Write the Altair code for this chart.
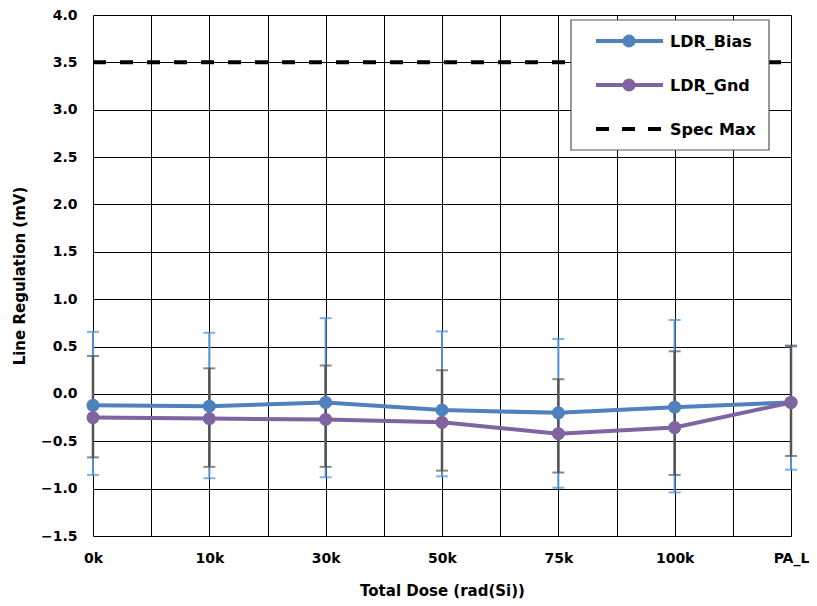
import altair as alt
import pandas as pd

categories = ["0k", "10k", "30k", "50k", "75k", "100k", "PA_L"]
bias_mean = [-0.12, -0.13, -0.09, -0.17, -0.20, -0.14, -0.09]
bias_hi = [0.655, 0.645, 0.80, 0.66, 0.58, 0.78, 0.50]
bias_lo = [-0.855, -0.89, -0.88, -0.87, -0.99, -1.04, -0.80]
gnd_mean = [-0.25, -0.26, -0.27, -0.30, -0.42, -0.355, -0.09]
gnd_hi = [0.40, 0.27, 0.30, 0.25, 0.155, 0.45, 0.51]
gnd_lo = [-0.67, -0.77, -0.77, -0.81, -0.83, -0.855, -0.655]
spec_max = 3.5
y_ticks = [4.0, 3.5, 3.0, 2.5, 2.0, 1.5, 1.0, 0.5, 0.0, -0.5, -1.0, -1.5]

BLUE = "#4F81BD"
BLUE_ERR = "#4F8FD6"
PURPLE = "#8064A2"
GRAY = "#555555"
FONT = "DejaVu Sans"

W, H = 698, 521

idx = list(range(len(categories)))
bias = pd.DataFrame({"i": idx, "cat": categories, "m": bias_mean, "hi": bias_hi, "lo": bias_lo})
gnd = pd.DataFrame({"i": idx, "cat": categories, "m": gnd_mean, "hi": gnd_hi, "lo": gnd_lo})
spec = pd.DataFrame({"i": [0, len(categories) - 1], "v": [spec_max, spec_max]})

label_arr = "[" + ",".join("'" + c + "'" for c in categories) + "]"
xscale = alt.Scale(domain=[0, len(categories) - 1], nice=False, zero=False)
yscale = alt.Scale(domain=[-1.5, 4.0], nice=False, zero=False)

x_axis = alt.Axis(
    title="Total Dose (rad(Si))",
    values=[k / 2 for k in range(2 * len(categories) - 1)],
    labelExpr=f"datum.value % 1 == 0 ? {label_arr}[datum.value] : ''",
    labelFlush=False, labelOverlap=False,
    grid=True, gridColor="#000000", gridOpacity=1, gridWidth=1,
    ticks=False, domain=False,
    labelFont=FONT, labelFontSize=14, labelFontWeight="bold", labelColor="#000000",
    labelPadding=15,
    titleFont=FONT, titleFontSize=15, titleFontWeight="bold", titleColor="#000000",
    titlePadding=18,
)
y_axis = alt.Axis(
    title="Line Regulation (mV)",
    values=y_ticks, format=".1f",
    labelFlush=False, labelOverlap=False,
    grid=True, gridColor="#000000", gridOpacity=1, gridWidth=1,
    ticks=False, domain=False,
    labelFont=FONT, labelFontSize=14, labelFontWeight="bold", labelColor="#000000",
    labelPadding=16,
    titleFont=FONT, titleFontSize=15, titleFontWeight="bold", titleColor="#000000",
    titlePadding=13,
)

X = alt.X("i:Q", scale=xscale, axis=x_axis)
Y = alt.Y("m:Q", scale=yscale, axis=y_axis)

base_b = alt.Chart(bias)
base_g = alt.Chart(gnd)

spec_line = alt.Chart(spec).mark_line(color="#000000", strokeWidth=4, strokeDash=[13, 14]).encode(
    x=alt.X("i:Q", scale=xscale, axis=x_axis), y=alt.Y("v:Q", scale=yscale, axis=y_axis))

b_err = base_b.mark_rule(color=BLUE_ERR, strokeWidth=2).encode(
    x=alt.X("i:Q", scale=xscale), y=alt.Y("lo:Q", scale=yscale), y2="hi:Q")
b_cap_hi = base_b.mark_tick(color=BLUE_ERR, orient="horizontal", size=12, thickness=2).encode(
    x=alt.X("i:Q", scale=xscale), y=alt.Y("hi:Q", scale=yscale))
b_cap_lo = base_b.mark_tick(color=BLUE_ERR, orient="horizontal", size=12, thickness=2).encode(
    x=alt.X("i:Q", scale=xscale), y=alt.Y("lo:Q", scale=yscale))

g_err = base_g.mark_rule(color=GRAY, strokeWidth=2.5).encode(
    x=alt.X("i:Q", scale=xscale), y=alt.Y("lo:Q", scale=yscale), y2="hi:Q")
g_cap_hi = base_g.mark_tick(color=GRAY, orient="horizontal", size=12, thickness=2).encode(
    x=alt.X("i:Q", scale=xscale), y=alt.Y("hi:Q", scale=yscale))
g_cap_lo = base_g.mark_tick(color=GRAY, orient="horizontal", size=12, thickness=2).encode(
    x=alt.X("i:Q", scale=xscale), y=alt.Y("lo:Q", scale=yscale))

b_line = base_b.mark_line(color=BLUE, strokeWidth=4).encode(x=X, y=Y)
b_pts = base_b.mark_circle(color=BLUE, size=170, opacity=1).encode(x=X, y=Y)
g_line = base_g.mark_line(color=PURPLE, strokeWidth=4).encode(x=X, y=Y)
g_pts = base_g.mark_circle(color=PURPLE, size=170, opacity=1).encode(x=X, y=Y)

# Legend (drawn in pixel space of the plot area)
one = pd.DataFrame({"a": [0]})
leg_x0, leg_x1, leg_y0, leg_y1 = 478, 676, 5, 135
leg_box = alt.Chart(one).mark_rect(fill="#ffffff", stroke="#555555", strokeWidth=1.2).encode(
    x=alt.value(leg_x0), x2=alt.value(leg_x1), y=alt.value(leg_y0), y2=alt.value(leg_y1))
legend_layers = [leg_box]
entries = [("LDR_Bias", BLUE, None, 26), ("LDR_Gnd", PURPLE, None, 70), ("Spec Max", "#000000", [13, 13], 114)]
for name, col, dash, yy in entries:
    kw = dict(color=col, strokeWidth=4)
    if dash:
        kw["strokeDash"] = dash
    legend_layers.append(alt.Chart(one).mark_rule(**kw).encode(
        x=alt.value(503), x2=alt.value(570), y=alt.value(yy)))
    if dash is None:
        legend_layers.append(alt.Chart(one).mark_circle(color=col, size=170, opacity=1).encode(
            x=alt.value(536), y=alt.value(yy)))
    legend_layers.append(alt.Chart(one).mark_text(
        align="left", baseline="middle", font=FONT, fontSize=16, fontWeight="bold", color="#000000").encode(
        x=alt.value(577), y=alt.value(yy + 1), text=alt.value(name)))

chart = alt.layer(
    spec_line, b_err, b_cap_hi, b_cap_lo, g_err, g_cap_hi, g_cap_lo,
    b_line, b_pts, g_line, g_pts, *legend_layers
).properties(
    width=W, height=H,
    autosize=alt.AutoSizeParams(type="none"),
    padding={"left": 85, "top": 7, "right": 18, "bottom": 70},
).configure_view(
    stroke="#000000", strokeWidth=1.2
).configure(background="#ffffff")

chart.save("out.html", embed_options={"renderer": "svg", "actions": False})
